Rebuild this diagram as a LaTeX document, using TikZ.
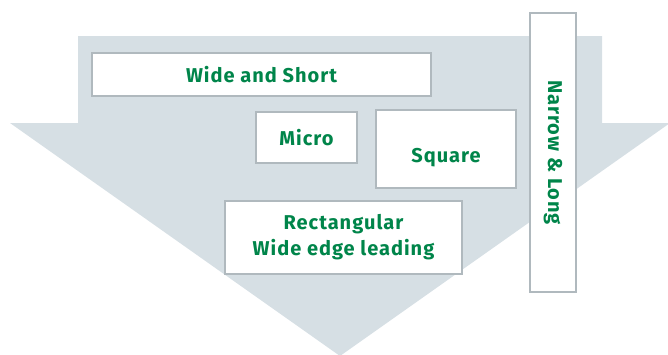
\documentclass[tikz,border=0pt]{standalone}
\usepackage{fontspec}
\setsansfont[LetterSpace=5]{Fira Sans}
\usepackage{tikz}
\usepackage{xcolor}
\usetikzlibrary{positioning}
\definecolor{flowgrey}{RGB}{214,223,228}
\definecolor{boxedge}{RGB}{176,185,190}
\definecolor{labelgreen}{RGB}{0,133,74}
\tikzset{
    shape box/.style={draw=boxedge, line width=1.6pt, fill=white, inner sep=0pt,
        font=\sffamily\bfseries\fontsize{20}{26}\selectfont, text=labelgreen, align=center}
}

\begin{document}
\begin{tikzpicture}[x=1pt, y=-1pt]
                        \useasboundingbox (0, 0) rectangle (668, 354);
                        \fill[flowgrey]
                        (78, 36) -- (602, 36) -- (602, 123) -- (670, 123) -- (340, 356)
                        -- (10, 123) -- (78, 123) -- cycle;
                        \node[shape box, minimum width=339pt, minimum height=43pt] (wide) at (261.5, 74.5) {Wide and Short};
                        \node[shape box, minimum width=101pt, minimum height=51pt] (micro) at (306.5, 137.5) {Micro};
                        \node[shape box, minimum width=140pt, minimum height=78pt, text height=26pt, text depth=0pt] (square) at (446, 149) {Square};
                        \node[shape box, minimum width=279pt, minimum height=46pt, rotate=-90] (narrow) at (553, 152.5) {Narrow \& Long};
                        \node[shape box, minimum width=237pt, minimum height=73pt] (rect) at (343.5, 237.5) {Rectangular\\Wide edge leading};
                    \end{tikzpicture}
\end{document}
